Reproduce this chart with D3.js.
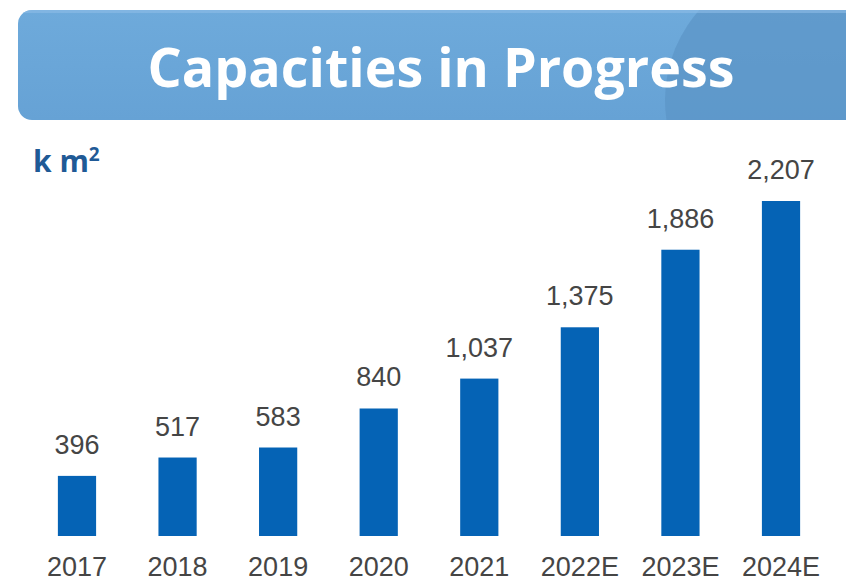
<!DOCTYPE html>
<html>
<head>
<meta charset="utf-8">
<script src="https://cdn.jsdelivr.net/npm/d3@7"></script>
<style>
	body { margin: 0; background: #fff; }
</style>
</head>
<body>
<div id="chart"></div>
<script>
const years = ["2017", "2018", "2019", "2020", "2021", "2022E", "2023E", "2024E"];
const capacity = [396, 517, 583, 840, 1037, 1375, 1886, 2207];
const title = "Capacities in Progress";

const width = 846;
const height = 583;
const baseline = 536;

const svg = d3.select("#chart").append("svg")
	.attr("width", width)
	.attr("height", height);

const defs = svg.append("defs");
const grad = defs.append("linearGradient")
	.attr("id", "banner")
	.attr("x1", 0).attr("y1", 0).attr("x2", 0).attr("y2", 1);
grad.append("stop").attr("offset", "0%").attr("stop-color", "#6eaadb");
grad.append("stop").attr("offset", "100%").attr("stop-color", "#66a2d5");

defs.append("clipPath").attr("id", "bannerClip")
	.append("rect")
	.attr("x", 18).attr("y", 10)
	.attr("width", 860).attr("height", 110)
	.attr("rx", 14);

// title banner
const banner = svg.append("g").attr("clip-path", "url(#bannerClip)");
banner.append("rect")
	.attr("x", 18).attr("y", 10)
	.attr("width", 860).attr("height", 110)
	.attr("fill", "url(#banner)");
banner.append("circle")
	.attr("cx", 800).attr("cy", 100)
	.attr("r", 135)
	.attr("fill", "#5b94c6")
	.attr("opacity", 0.7);
banner.append("rect")
	.attr("x", 18).attr("y", 10)
	.attr("width", 860).attr("height", 3)
	.attr("fill", "#8dbde6")
	.attr("opacity", 0.6);

svg.append("text")
	.attr("x", 441)
	.attr("y", 87)
	.attr("text-anchor", "middle")
	.attr("fill", "#fff")
	.attr("textLength", 587)
	.attr("lengthAdjust", "spacingAndGlyphs")
	.style("font", "bold 54px 'Open Sans', sans-serif")
	.text(title);

// unit label
const unit = svg.append("text")
	.attr("x", 33)
	.attr("y", 172)
	.attr("fill", "#1f5a96")
	.style("font", "bold 30px 'Open Sans', sans-serif")
	.text("k m");
unit.append("tspan")
	.attr("dy", -11)
	.style("font-size", "19px")
	.text("2");

const x = d3.scaleBand()
	.domain(years)
	.range([26.7, 831.3])
	.paddingInner(0.62)
	.paddingOuter(0.31);

const y = d3.scaleLinear()
	.domain([0, 2207])
	.range([baseline, 201]);

const data = years.map((d, i) => ({year: d, value: capacity[i]}));

svg.append("g")
	.selectAll("rect")
	.data(data)
	.join("rect")
	.attr("x", d => x(d.year))
	.attr("y", d => y(d.value))
	.attr("width", x.bandwidth())
	.attr("height", d => baseline - y(d.value))
	.attr("fill", "#0563b5");

svg.append("g")
	.style("font", "27px 'Liberation Sans', Arial, sans-serif")
	.selectAll("text")
	.data(data)
	.join("text")
	.attr("x", d => x(d.year) + x.bandwidth() / 2)
	.attr("y", d => y(d.value) - 22)
	.attr("text-anchor", "middle")
	.attr("fill", "#454545")
	.text(d => d3.format(",")(d.value));

const xAxis = d3.axisBottom(x).tickSize(0).tickPadding(0);
svg.append("g")
	.attr("transform", `translate(0,${baseline})`)
	.call(xAxis)
	.call(g => g.select(".domain").remove())
	.call(g => g.selectAll(".tick text")
		.attr("dy", null)
		.attr("y", 40)
		.attr("fill", "#454545")
		.style("font", "27px 'Liberation Sans', Arial, sans-serif"));
</script>
</body>
</html>
